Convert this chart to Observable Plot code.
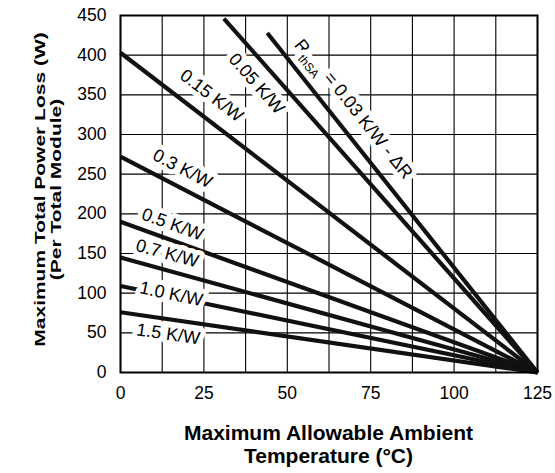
<!DOCTYPE html>
<html>
<head>
<meta charset="utf-8">
<script src="https://cdn.jsdelivr.net/npm/d3@7"></script>
<script src="https://cdn.jsdelivr.net/npm/@observablehq/plot@0.6"></script>
<style>
  body { margin: 0; background: #fff; }
  #chart { width: 555px; height: 473px; }
</style>
</head>
<body>
<div id="chart"></div>
<script>
// Thermal resistance curves: each is a straight line from a start point to (125 °C, 0 W)
const rthLabels = ["0.03", "0.05", "0.15", "0.3", "0.5", "0.7", "1.0", "1.5"];
const startTemp = [44, 31, 0, 0, 0, 0, 0, 0];
const startPower = [428, 446, 403, 272, 190, 145, 109, 76];
const endTemp = 125;
const endPower = 0;
// Label anchor points (data coordinates)
const labelTemp = [69.5, 40.8, 27.3, 18.6, 15.6, 14.0, 15.2, 14.3];
const labelPower = [331, 364, 349, 257, 186.6, 150, 99, 48.5];
const labelText = ["R{thSA} = 0.03 K/W - ΔR", "0.05 K/W", "0.15 K/W", "0.3 K/W", "0.5 K/W", "0.7 K/W", "1.0 K/W", "1.5 K/W"];
const xTicks = [0, 25, 50, 75, 100, 125];
const yTicks = [0, 50, 100, 150, 200, 250, 300, 350, 400, 450];
const xGrid = d3.range(0, 125.01, 12.5);

const W = 555, H = 473, ML = 120, MR = 18, MT = 15, MB = 101;
const kx = (W - ML - MR) / 125;
const ky = (H - MT - MB) / 450;

const lines = [];
rthLabels.forEach((r, i) => {
  lines.push({r, t: startTemp[i], p: startPower[i]});
  lines.push({r, t: endTemp, p: endPower});
});
const labels = rthLabels.map((r, i) => ({
  text: labelText[i],
  t: labelTemp[i],
  p: labelPower[i],
  angle: Math.atan2((startPower[i] - endPower) * ky, (endTemp - startTemp[i]) * kx) * 180 / Math.PI
}));

const font = "'Liberation Sans', Arial, Helvetica, sans-serif";
const yTitleSquash = 0.72;

const chart = Plot.plot({
  width: W, height: H,
  marginLeft: ML, marginRight: MR, marginTop: MT, marginBottom: MB,
  style: {fontFamily: font, background: "#fff", color: "#000"},
  x: {domain: [0, 125], label: null},
  y: {domain: [0, 450], label: null},
  marks: [
    Plot.ruleX(xGrid, {stroke: "#000", strokeWidth: 1.1}),
    Plot.ruleY(yTicks, {stroke: "#000", strokeWidth: 1.1}),
    Plot.line(lines, {x: "t", y: "p", z: "r", stroke: "#111", strokeWidth: 4.2, strokeLinecap: "butt"}),
    Plot.text(labels, {x: "t", y: "p", text: "text", rotate: "angle", fontSize: 18, fill: "#000",
      stroke: "white", strokeWidth: 10, strokeLinejoin: "round", textAnchor: "middle", lineAnchor: "middle"}),
    Plot.frame({stroke: "#000", strokeWidth: 2}),
    Plot.axisX(xTicks, {tickSize: 0, tickPadding: 14, fontSize: 17.5, label: null}),
    Plot.axisY(yTicks, {tickSize: 0, tickPadding: 14, fontSize: 17.5, label: null}),
    Plot.text(["Maximum Allowable Ambient\nTemperature (°C)"], {frameAnchor: "bottom", dy: 71.5, dx: -(ML + (W - MR) ) / 2 + 328,
      fontSize: 21, fontWeight: "bold", lineAnchor: "middle", lineHeight: 23 / 21, fill: "#000"}),
    Plot.text(["Maximum Total Power Loss (W)\n(Per Total Module)"], {frameAnchor: "left", rotate: -90, dx: -72.5, dy: -4.5,
      textAnchor: "middle", fontSize: 21, fontWeight: "bold", lineAnchor: "middle",
      lineHeight: (15.5 / yTitleSquash) / 21, fill: "#000"})
  ]
});

document.getElementById("chart").appendChild(chart);

d3.select(chart).selectAll("text").each(function () {
  const el = d3.select(this);
  const s = this.textContent;
  // subscript for RthSA
  if (s.startsWith("R{thSA}")) {
    el.text(null);
    el.append("tspan").text("R");
    el.append("tspan").attr("font-size", 12).attr("dy", "0.45em").text("thSA");
    el.append("tspan").attr("dy", "-0.45em").text(s.slice(7));
  }
  // narrower glyphs for the vertical title, as in the reference
  if (s.startsWith("Maximum Total")) {
    const tr = el.attr("transform") || "";
    el.attr("transform", tr + ` scale(1,${yTitleSquash})`);
  }
});
</script>
</body>
</html>
